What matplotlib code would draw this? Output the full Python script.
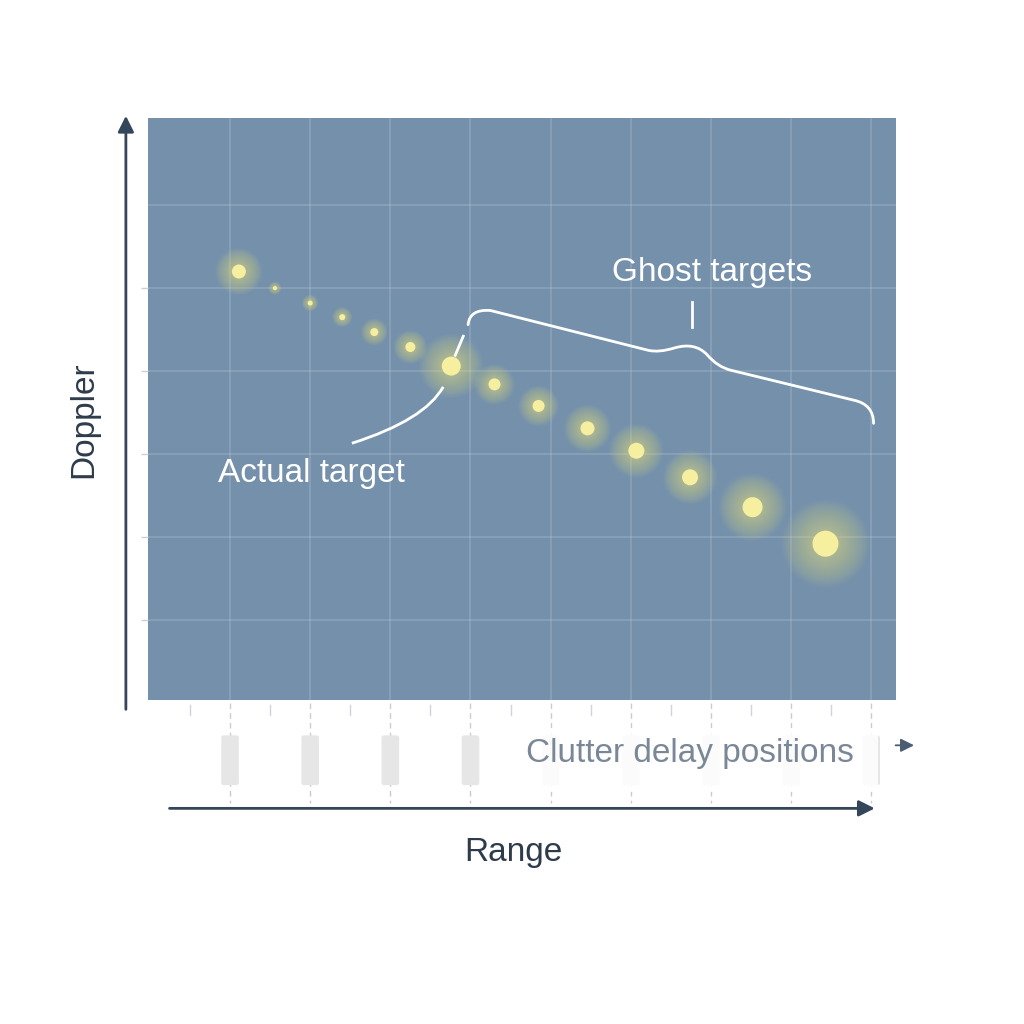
import numpy as np
import matplotlib.pyplot as plt
from matplotlib.path import Path
from matplotlib.patches import PathPatch, FancyBboxPatch, FancyArrowPatch, Rectangle

plt.rcParams['font.family'] = ['Liberation Sans', 'DejaVu Sans']

# target returns along the range-doppler line
range_pos = [1.11, 1.56, 2.00, 2.40, 2.80, 3.25, 3.76, 4.30, 4.85, 5.46, 6.07, 6.74, 7.52, 8.43]
doppler_pos = [5.20, 5.00, 4.82, 4.65, 4.47, 4.29, 4.06, 3.84, 3.58, 3.31, 3.04, 2.72, 2.36, 1.92]
amplitude = [7, 2, 2.5, 3, 4, 5, 9.5, 6, 6, 7, 8, 8, 10, 13]

clutter_bins = [1, 2, 3, 4, 5, 6, 7, 8, 9]
range_grid = [1, 2, 3, 4, 5, 6, 7, 8, 9]
doppler_grid = [1, 2, 3, 4, 5, 6]

panel = '#7490ab'
dark = '#34465a'

fig = plt.figure(figsize=(10.24, 10.24), dpi=100)
ax = fig.add_axes([148 / 1024, 324 / 1024, 748 / 1024, 582 / 1024])
ax.set_xlim(-0.024, 9.31)
ax.set_ylim(0.036, 7.05)
ax.set_facecolor(panel)
for s in ax.spines.values():
    s.set_visible(False)
ax.set_xticks([])
ax.set_yticks(doppler_grid[:-1])
ax.set_yticklabels([])
ax.tick_params(axis='y', length=5, color='#c8d0d8', width=1)

for g in range_grid:
    ax.axvline(g, color='white', alpha=0.16, lw=1.2, zorder=1)
for g in doppler_grid:
    ax.axhline(g, color='white', alpha=0.16, lw=1.2, zorder=1)

# glowing returns
rx = np.array(range_pos)
ry = np.array(doppler_pos)
amp = np.array(amplitude)
for k in np.linspace(3.4, 1.1, 16):
    ax.scatter(rx, ry, s=(2 * amp * k * 0.72) ** 2, color='#f2ea80', alpha=0.04,
               lw=0, zorder=3)
ax.scatter(rx, ry, s=(2 * amp * 0.72) ** 2, color='#f7efa0', lw=0, zorder=4)

# brace over the ghost targets
brace_verts = [(3.97, 4.56), (3.99, 4.75), (4.25, 4.73), (6.22, 4.25),
               (6.35, 4.22), (6.55, 4.28), (6.80, 4.35), (6.95, 4.20),
               (7.08, 4.05), (7.25, 4.01), (8.78, 3.65), (9.03, 3.60), (9.03, 3.37)]
brace_codes = [Path.MOVETO, Path.CURVE3, Path.CURVE3, Path.LINETO,
               Path.CURVE3, Path.CURVE3, Path.CURVE3, Path.CURVE3,
               Path.CURVE3, Path.CURVE3, Path.LINETO, Path.CURVE3, Path.CURVE3]
ax.add_patch(PathPatch(Path(brace_verts, brace_codes), fill=False, ec='white',
                       lw=2, capstyle='round', zorder=5))
ax.plot([6.77, 6.77], [4.53, 4.83], color='white', lw=2, zorder=5)
ax.plot([3.81, 3.91], [4.19, 4.42], color='white', lw=2, zorder=5)

# leader to the actual target
leader = Path([(2.52, 3.13), (3.43, 3.41), (3.66, 3.81)],
              [Path.MOVETO, Path.CURVE3, Path.CURVE3])
ax.add_patch(PathPatch(leader, fill=False, ec='white', lw=2, zorder=5))

ax.text(7.02, 5.19, 'Ghost targets', color='white', fontsize=24,
        ha='center', va='center', zorder=6)
ax.text(2.02, 2.77, 'Actual target', color='white', fontsize=24,
        ha='center', va='center', zorder=6)

# below the panel: range ticks and clutter delay positions
for g in range_grid:
    ax.plot([g, g], [0.0, -1.2], color='#c8ccd0', lw=1, ls=(0, (4, 3)),
            clip_on=False, zorder=1)
for g in range_grid:
    ax.plot([g - 0.5, g - 0.5], [-0.03, -0.14], color='#d0d4d8', lw=1,
            clip_on=False, zorder=1)
for b in clutter_bins:
    ax.add_patch(FancyBboxPatch((b - 0.11, -0.99), 0.22, 0.6,
                                boxstyle='round,pad=0,rounding_size=0.03',
                                fc='#e6e6e6', ec='none', clip_on=False, zorder=2))

ax.add_patch(Rectangle((4.56, -1.07), 4.53, 0.77, fc='white', ec='none',
                       alpha=0.86, clip_on=False, zorder=3))
ax.text(6.74, -0.61, 'Clutter delay positions', color='#7a8797', fontsize=24,
        ha='center', va='center', zorder=4, clip_on=False)
ax.add_patch(FancyArrowPatch((9.27, -0.51), (9.57, -0.51), arrowstyle='-|>',
                             mutation_scale=20, color='#4a5d72', lw=1.3,
                             clip_on=False, zorder=5))

# axis arrows
ax.add_patch(FancyArrowPatch((-0.30, -0.11), (-0.30, 7.11), arrowstyle='-|>',
                             mutation_scale=24, color=dark, lw=2,
                             clip_on=False, zorder=5))
ax.add_patch(FancyArrowPatch((0.21, -1.27), (9.08, -1.27), arrowstyle='-|>',
                             mutation_scale=24, color=dark, lw=2,
                             clip_on=False, zorder=5))
ax.text(-0.83, 3.41, 'Doppler', color='#2d3b4b', fontsize=24, rotation=90,
        ha='center', va='center', clip_on=False)
ax.text(4.53, -1.80, 'Range', color='#2d3b4b', fontsize=24,
        ha='center', va='center', clip_on=False)

fig.savefig('out.png', dpi=100, facecolor='white')
